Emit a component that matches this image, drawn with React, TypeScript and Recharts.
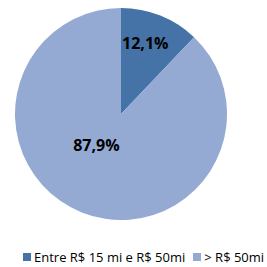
import React from "react";
import { PieChart, Pie, Cell, Legend } from "recharts";

const categories = ["Entre R$ 15 mi e R$ 50mi", "> R$ 50mi"];
const values = [12.1, 87.9];
const labels = ["12,1%", "87,9%"];
const colors = ["#4572A7", "#94AAD3"];

const data = categories.map((name, i) => ({ name, value: values[i], label: labels[i] }));

const RAD = Math.PI / 180;

const renderLabel = (props: any) => {
  const { cx, cy, midAngle, outerRadius, index } = props;
  const frac = index === 0 ? 0.71 : 0.37;
  const angle = index === 0 ? midAngle + 3 : midAngle - 17;
  const x = cx + outerRadius * frac * Math.cos(-angle * RAD);
  const y = cy + outerRadius * frac * Math.sin(-angle * RAD);
  return (
    <text
      x={x}
      y={y}
      fill="#000"
      textAnchor="middle"
      dominantBaseline="central"
      fontFamily="'Open Sans', sans-serif"
      fontWeight="bold"
      fontSize={16}
    >
      {labels[index]}
    </text>
  );
};

const renderLegend = () => (
  <div
    style={{
      display: "flex",
      alignItems: "center",
      fontFamily: "'Open Sans', sans-serif",
      fontSize: 13,
      color: "#000",
      whiteSpace: "nowrap",
    }}
  >
    {data.map((d, i) => (
      <span key={d.name} style={{ display: "inline-flex", alignItems: "center", marginLeft: i === 0 ? 23 : 8 }}>
        <span style={{ width: 8, height: 8, background: colors[i], display: "inline-block", marginRight: 3 }} />
        {d.name}
      </span>
    ))}
  </div>
);

export default function App() {
  return (
    <div style={{ position: "absolute", left: 0, top: 0, width: 267, height: 267, background: "#fff" }}>
      <PieChart width={267} height={267} margin={{ top: 0, right: 0, bottom: 0, left: 0 }}>
        <Pie
          data={data}
          dataKey="value"
          nameKey="name"
          cx={121}
          cy={114}
          outerRadius={106}
          startAngle={90}
          endAngle={-270}
          stroke="none"
          isAnimationActive={false}
          label={renderLabel}
          labelLine={false}
        >
          {data.map((d, i) => (
            <Cell key={d.name} fill={colors[i]} />
          ))}
        </Pie>
        <Legend
          content={renderLegend}
          wrapperStyle={{ position: "absolute", top: 248, left: 0, width: 267 }}
        />
      </PieChart>
    </div>
  );
}
